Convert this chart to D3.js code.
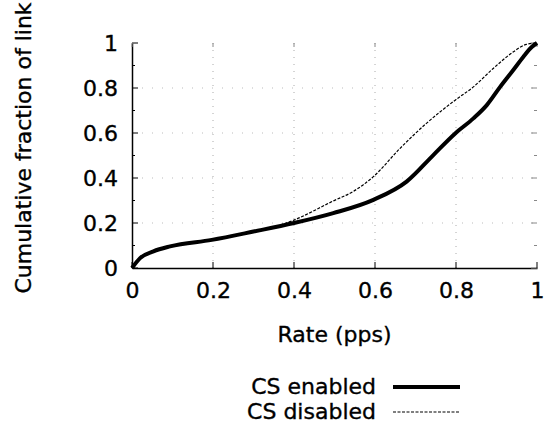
<!DOCTYPE html>
<html><head><meta charset="utf-8">
<script src="https://cdn.jsdelivr.net/npm/d3@7"></script>
<style>body{margin:0;background:#fff}svg{display:block}text{font-family:"DejaVu Sans",sans-serif;fill:#000;stroke:#000;stroke-width:0.35px}</style>
</head><body>
<script>
const xTicks = [0, 0.2, 0.4, 0.6, 0.8, 1];
const yTicks = [0, 0.2, 0.4, 0.6, 0.8, 1];
const seriesNames = ["CS enabled", "CS disabled"];
const enabledX = [0, 0.02, 0.053, 0.094, 0.197, 0.30, 0.40, 0.497, 0.596, 0.678, 0.744, 0.798, 0.843, 0.876, 0.909, 0.941, 0.966, 0.987, 1];
const enabledY = [0, 0.044, 0.074, 0.096, 0.125, 0.162, 0.20, 0.244, 0.303, 0.384, 0.502, 0.598, 0.665, 0.724, 0.805, 0.879, 0.938, 0.982, 1];
const disabledX = [0, 0.02, 0.053, 0.094, 0.197, 0.30, 0.365, 0.40, 0.497, 0.546, 0.596, 0.662, 0.727, 0.798, 0.843, 0.892, 0.941, 0.974, 1];
const disabledY = [0, 0.044, 0.074, 0.096, 0.125, 0.162, 0.19, 0.213, 0.298, 0.34, 0.406, 0.532, 0.643, 0.746, 0.805, 0.887, 0.96, 0.994, 1];

const W = 545, H = 426;
const m = {left: 132, right: 8, top: 43, bottom: 158};
const svg = d3.select("body").append("svg").attr("width", W).attr("height", H);
const x = d3.scaleLinear().domain([0, 1]).range([m.left, W - m.right]);
const y = d3.scaleLinear().domain([0, 1]).range([H - m.bottom, m.top]);

// grid
const g = svg.append("g");
g.selectAll(".vg").data(xTicks.slice(1, -1)).join("line")
  .attr("x1", d => x(d)).attr("x2", d => x(d)).attr("y1", y(0)).attr("y2", y(1))
  .attr("stroke", "#aaa").attr("stroke-width", 1).attr("stroke-dasharray", "1,6");
g.selectAll(".hg").data(yTicks.slice(1, -1)).join("line")
  .attr("y1", d => y(d)).attr("y2", d => y(d)).attr("x1", x(0)).attr("x2", x(1))
  .attr("stroke", "#bbb").attr("stroke-width", 1).attr("stroke-dasharray", "1,9");

// axes
const minor = d3.range(0, 1.0001, 0.1);
const yAxis = svg.append("g").attr("transform", `translate(${x(0)},0)`)
  .call(d3.axisLeft(y).tickValues(yTicks).tickSize(0).tickPadding(14).tickFormat(d3.format("")));
const xAxis = svg.append("g").attr("transform", `translate(0,${y(0)})`)
  .call(d3.axisBottom(x).tickValues(xTicks).tickSize(0).tickPadding(14).tickFormat(d3.format("")));
[yAxis, xAxis].forEach(a => {
  a.select(".domain").attr("stroke", "#000").attr("stroke-width", 1.5);
  a.selectAll("text").style("font-size", "22px").attr("fill", "#000");
});
// y ticks (inward)
svg.append("g").selectAll("line").data(minor).join("line")
  .attr("x1", x(0)).attr("x2", (d, i) => x(0) + (i % 2 === 0 ? 6 : 3))
  .attr("y1", d => y(d)).attr("y2", d => y(d)).attr("stroke", "#000");
svg.append("g").selectAll("line").data(minor).join("line")
  .attr("x1", x(1)).attr("x2", (d, i) => x(1) - (i % 2 === 0 ? 6 : 3))
  .attr("y1", d => y(d)).attr("y2", d => y(d)).attr("stroke", "#888");
// x ticks
svg.append("g").selectAll("line").data(xTicks).join("line")
  .attr("x1", d => x(d)).attr("x2", d => x(d))
  .attr("y1", y(0)).attr("y2", y(0) - 6).attr("stroke", "#000");
svg.append("g").selectAll("line").data(xTicks).join("line")
  .attr("x1", d => x(d)).attr("x2", d => x(d))
  .attr("y1", y(1)).attr("y2", y(1) + 4).attr("stroke", "#888");

// lines
const line = d3.line().x(d => x(d[0])).y(d => y(d[1])).curve(d3.curveMonotoneX);
svg.append("path").datum(disabledX.map((v, i) => [v, disabledY[i]]))
  .attr("d", line).attr("fill", "none").attr("stroke", "#000").attr("stroke-width", 1.2).attr("stroke-dasharray", "3,1.5");
svg.append("path").datum(enabledX.map((v, i) => [v, enabledY[i]]))
  .attr("d", line).attr("fill", "none").attr("stroke", "#000").attr("stroke-width", 4);

// labels
svg.append("text").attr("transform", `translate(31,148) rotate(-90)`)
  .attr("text-anchor", "middle").style("font-size", "22px").text("Cumulative fraction of link");
svg.append("text").attr("x", (x(0) + x(1)) / 2).attr("y", 342)
  .attr("text-anchor", "middle").style("font-size", "22px").text("Rate (pps)");

// legend
const leg = svg.append("g");
seriesNames.forEach((n, i) => {
  const yy = 387 + i * 25;
  leg.append("text").attr("x", 376).attr("y", yy + 7).attr("text-anchor", "end")
    .style("font-size", "22px").text(n);
  leg.append("line").attr("x1", 393).attr("x2", 460).attr("y1", yy).attr("y2", yy)
    .attr("stroke", "#000").attr("stroke-width", i === 0 ? 4 : 1.2)
    .attr("stroke-dasharray", i === 0 ? null : "3,1.5");
});
</script>
</body></html>
